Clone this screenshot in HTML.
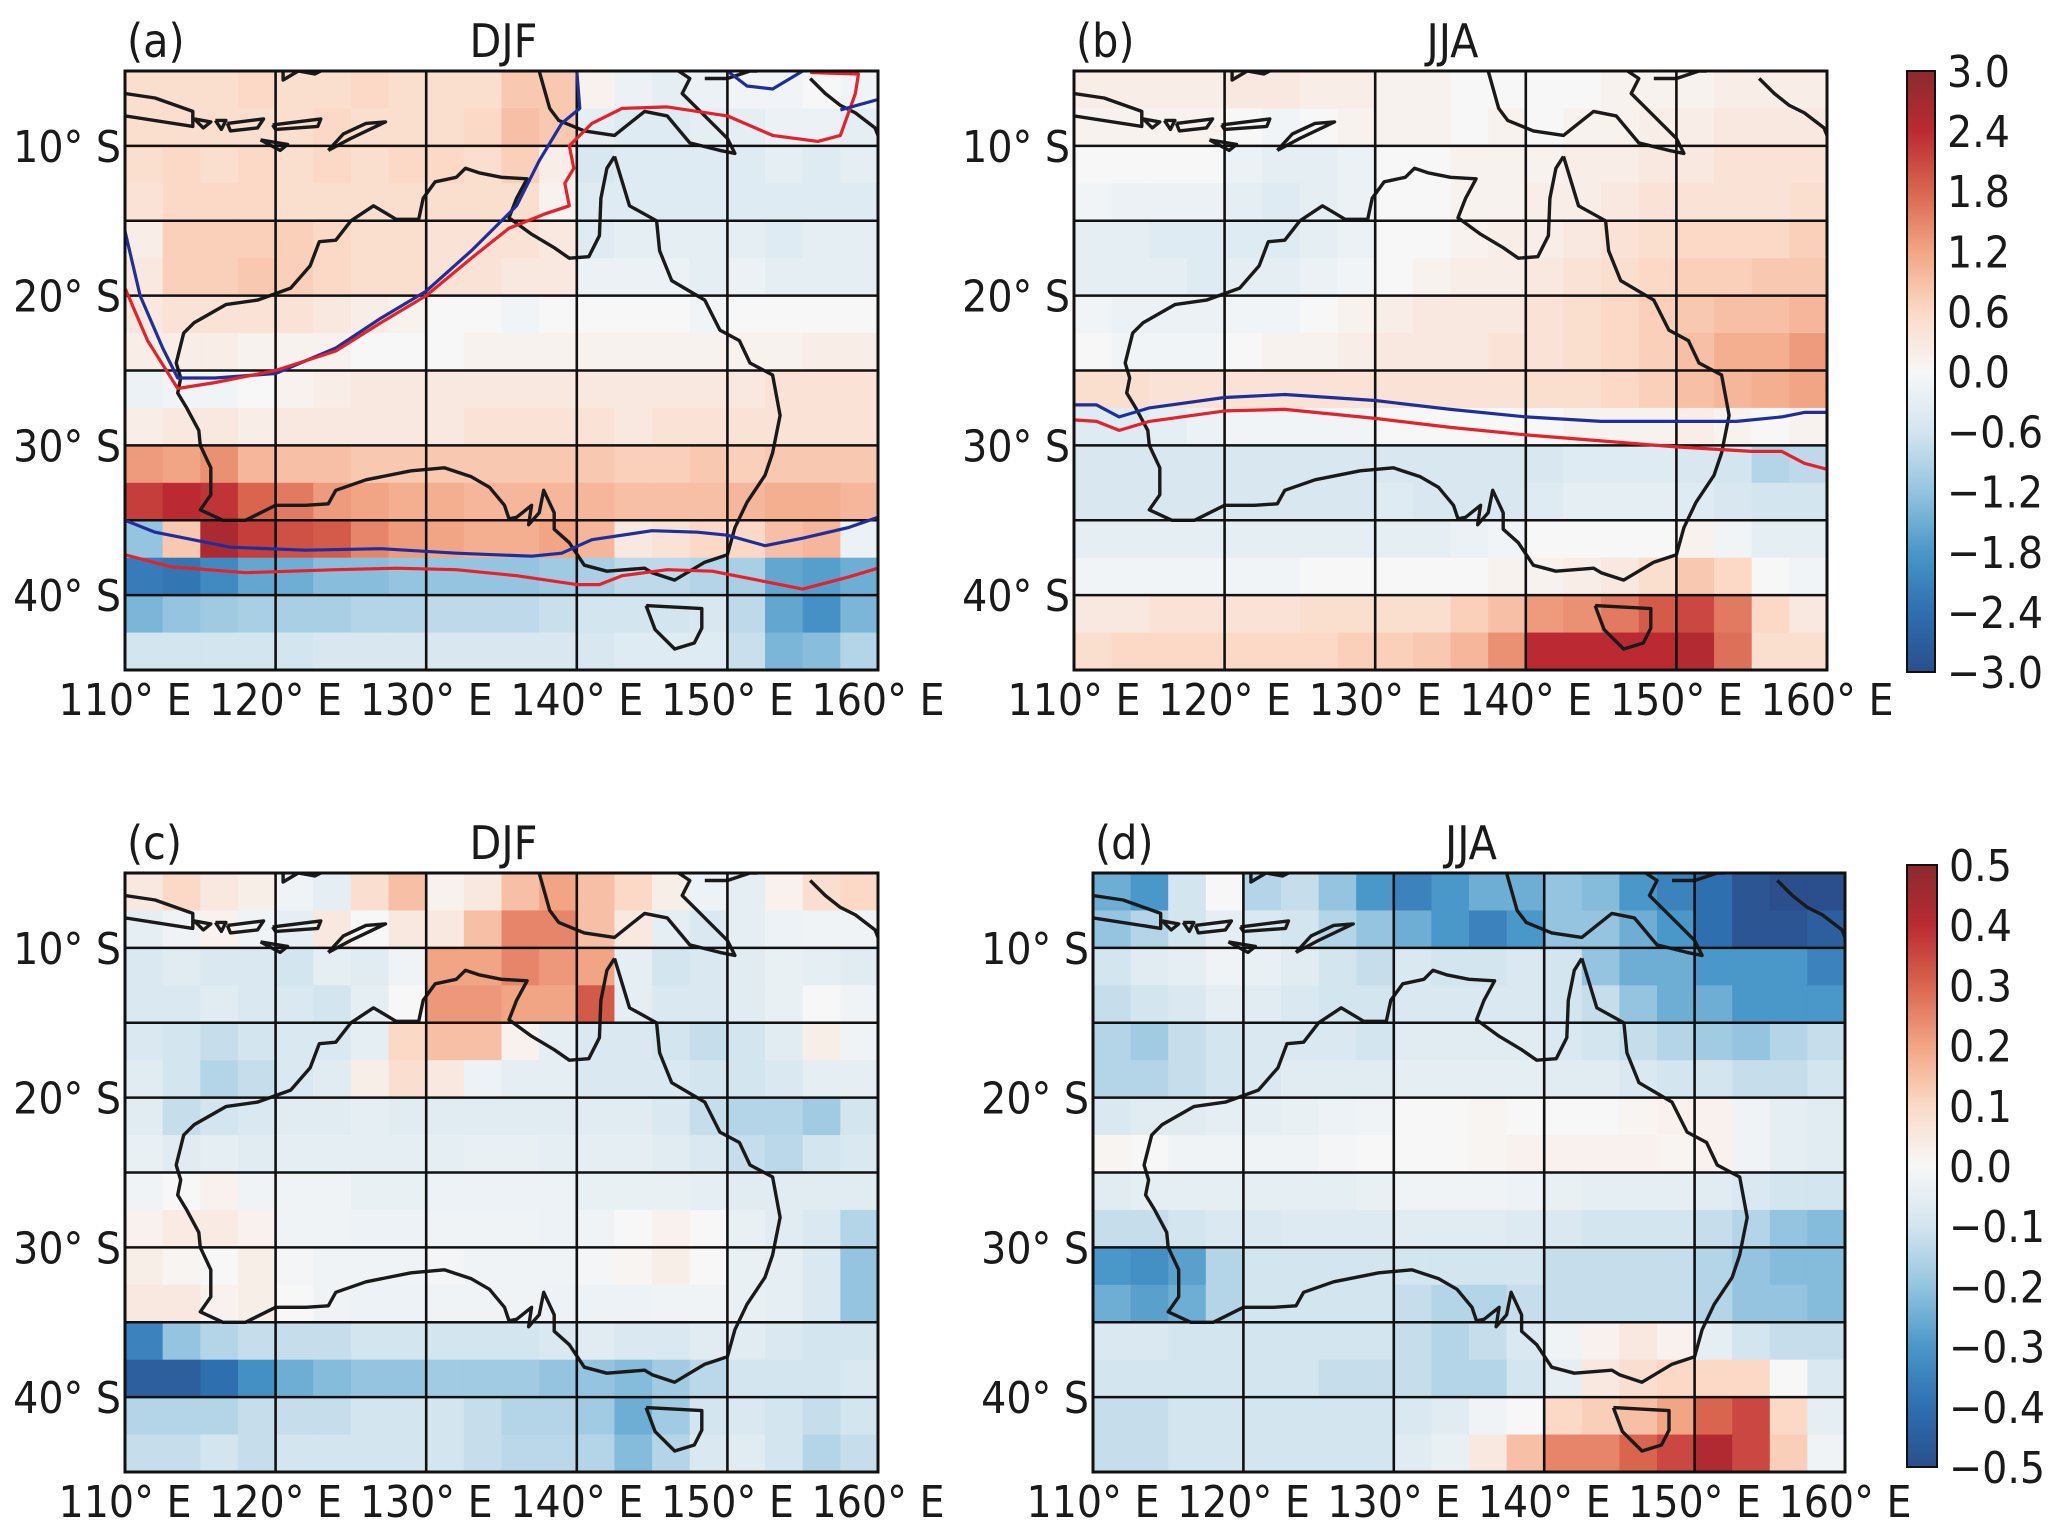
<!DOCTYPE html>
<html><head><meta charset="utf-8">
<style>
html,body{margin:0;padding:0;background:#fff;}
svg{display:block;font-family:"DejaVu Sans","Liberation Sans",sans-serif;font-stretch:condensed;}
</style></head>
<body>
<svg id="fig" width="2067" height="1534" viewBox="0 0 2067 1534" xmlns="http://www.w3.org/2000/svg"></svg>
<script>
// ---------------- data ----------------
const lonStart = 110, lonEnd = 160, latTop = -5, latBot = -45, cell = 2.5;
const lonTicks = [110,120,130,140,150,160];
const lonTickLabels = ["110° E","120° E","130° E","140° E","150° E","160° E"];
const latTicks = [-10,-20,-30,-40];
const latTickLabels = ["10° S","20° S","30° S","40° S"];
const latGrid = [-10,-15,-20,-25,-30,-35,-40];
const cbTicksA = ["3.0","2.4","1.8","1.2","0.6","0.0","−0.6","−1.2","−1.8","−2.4","−3.0"];
const cbTicksB = ["0.5","0.4","0.3","0.2","0.1","0.0","−0.1","−0.2","−0.3","−0.4","−0.5"];

const gridA = [
[.5,.5,.5,.6,.5,.5,.6,.5,.5,.5,.8,.8,.1,-.2,-.3,-.2,-.1,-.1,0,-.1],
[.5,.5,.5,.5,.5,.6,.5,.5,.5,.6,.9,.8,-.3,-.4,-.4,-.3,-.3,-.2,-.2,-.3],
[.5,.6,.5,.6,.5,.6,.5,.6,.6,.5,.7,.2,-.5,-.4,-.4,-.4,-.4,-.3,-.4,-.3],
[.4,.6,.6,.6,.5,.5,.5,.5,.5,.5,.5,.1,-.4,-.4,-.4,-.4,-.4,-.4,-.4,-.4],
[.2,.7,.7,.7,.7,.6,.5,.5,.4,.4,.4,.3,-.4,-.3,-.3,-.3,-.3,-.4,-.3,-.3],
[.3,.7,.7,.8,.7,.6,.5,.5,.4,.4,.3,.3,-.2,-.2,-.2,-.3,-.2,-.3,-.3,-.3],
[.3,.4,.4,.4,.4,.3,.2,.1,0,0,-.1,0,0,0,0,-.1,0,0,0,0],
[.2,.2,.2,.1,.1,.1,0,0,0,.1,.1,.1,.1,.1,.1,.1,.1,.1,.2,.2],
[-.2,-.1,-.1,0,.1,.2,.3,.3,.3,.3,.3,.3,.3,.3,.3,.3,.3,.4,.4,.4],
[.2,.3,.3,.2,.3,.3,.3,.3,.3,.4,.4,.4,.4,.3,.4,.4,.4,.4,.4,.4],
[1.3,1.2,1.4,1.0,.9,.9,.8,.8,.8,.8,.8,.8,.8,.7,.7,.8,.7,.8,.8,.8],
[2.2,2.4,2.3,1.8,1.6,1.3,1.2,1.1,1.1,1.0,1.0,1.0,1.0,.9,.9,.9,1.0,1.1,1.1,1.0],
[-1.2,.8,2.6,2.2,2.0,1.9,1.5,1.3,1.2,1.1,1.1,1.2,1.0,.3,.4,.6,.6,.9,1.0,-.2],
[-2.2,-2.3,-2.0,-1.6,-1.5,-1.3,-1.3,-1.2,-1.2,-1.2,-1.2,-1.1,-1.0,-.8,-.8,-.9,-1.0,-1.6,-1.7,-1.5],
[-1.4,-1.2,-1.1,-1.0,-1.0,-1.0,-.9,-.9,-.8,-.8,-.8,-.7,-.6,-.6,-.6,-.5,-.8,-1.6,-1.9,-1.4],
[-.6,-.6,-.6,-.6,-.6,-.5,-.5,-.5,-.5,-.5,-.5,-.5,-.5,-.4,-.4,-.4,-.7,-1.4,-1.3,-.9]];

const gridB = [
[.2,.2,.2,.2,.3,.3,.2,.2,.1,.1,0,0,0,0,.1,.1,.1,.2,.2,.2],
[.1,.1,.1,.1,0,-.1,0,.1,.1,.1,0,.1,0,.1,.1,.2,.2,.3,.3,.3],
[0,0,0,0,-.2,-.3,-.3,-.2,0,0,.1,.1,.1,.2,.2,.3,.3,.4,.4,.4],
[-.1,-.2,-.2,-.2,-.3,-.4,-.3,-.2,0,0,.1,.1,.2,.2,.3,.4,.4,.4,.4,.5],
[-.3,-.3,-.4,-.4,-.4,-.4,-.3,-.2,0,0,.1,.2,.2,.3,.4,.5,.6,.6,.6,.7],
[-.3,-.3,-.3,-.4,-.3,-.3,-.2,-.1,0,.1,.2,.2,.3,.4,.5,.6,.7,.7,.8,.8],
[-.1,-.2,-.2,-.2,-.1,-.1,0,.1,.2,.3,.3,.3,.4,.5,.6,.7,.8,.9,.9,1.0],
[0,-.1,-.1,-.1,0,.1,.1,.2,.3,.3,.3,.4,.4,.5,.6,.7,.9,1.1,1.1,1.3],
[.5,.5,.4,.4,.4,.4,.4,.4,.4,.4,.4,.4,.5,.5,.6,.7,.9,1.0,1.1,1.2],
[-.4,-.4,-.3,-.2,-.1,-.1,-.1,-.1,0,0,0,0,0,.1,.1,.1,.2,.1,0,.1],
[-.5,-.5,-.5,-.5,-.5,-.5,-.5,-.5,-.5,-.5,-.5,-.5,-.5,-.4,-.4,-.4,-.5,-.6,-.9,-.8],
[-.5,-.5,-.5,-.5,-.5,-.5,-.5,-.5,-.4,-.5,-.5,-.5,-.4,-.3,-.3,-.3,-.4,-.5,-.6,-.6],
[-.3,-.3,-.3,-.3,-.3,-.3,-.3,-.3,-.3,-.3,-.2,-.1,0,0,0,0,.1,-.1,-.3,-.3],
[-.1,-.1,-.1,-.1,-.1,-.1,0,0,0,0,0,.1,.1,.2,.3,.5,.8,.6,0,-.1],
[.3,.3,.4,.4,.4,.4,.5,.5,.5,.5,.7,.9,1.3,1.4,1.6,1.9,2.1,1.6,.6,.3],
[.5,.6,.6,.6,.6,.6,.6,.7,.7,.8,1.0,1.4,2.4,2.4,2.4,2.4,2.5,1.7,.5,.5]];

const gridC = [
[.05,.1,.05,.03,-.02,-.05,.08,.15,.02,.05,.15,.2,.15,.1,.03,-.03,-.05,.02,.08,.1],
[-.05,-.02,.02,-.02,-.05,.05,0,.05,.05,.15,.25,.25,.15,.05,-.05,-.08,-.05,-.03,-.02,-.02],
[-.08,-.06,-.08,-.08,-.1,-.05,-.06,-.02,.2,.2,.25,.22,.2,-.05,-.1,-.08,-.06,-.04,-.05,-.06],
[-.08,-.08,-.06,-.08,-.08,-.1,-.05,0,.22,.22,.2,.2,.32,-.05,-.08,-.08,-.06,-.04,0,-.02],
[-.08,-.1,-.12,-.1,-.08,-.08,-.05,.1,.15,.15,.02,-.05,-.08,-.08,-.1,-.12,-.1,-.06,.03,-.02],
[-.06,-.1,-.15,-.12,-.08,-.06,.03,.08,.05,-.03,-.05,-.05,-.08,-.08,-.08,-.1,-.1,-.08,-.05,-.05],
[-.06,-.12,-.1,-.08,-.06,-.06,-.05,-.06,-.06,-.06,-.06,-.06,-.06,-.06,-.08,-.12,-.15,-.15,-.18,-.1],
[-.04,-.06,-.05,-.06,-.05,-.05,-.05,-.05,-.05,-.04,-.04,-.05,-.05,-.05,-.06,-.08,-.12,-.14,-.1,-.08],
[-.02,0,.02,-.02,-.02,-.02,-.04,-.04,-.03,-.03,-.03,-.03,-.04,-.04,-.04,-.05,-.06,-.06,-.06,-.06],
[.02,.04,.04,.02,-.02,-.02,-.03,-.03,-.02,-.02,-.02,-.03,-.02,0,.02,0,-.04,-.06,-.08,-.15],
[.03,.01,0,.03,-.01,-.02,-.02,-.02,-.01,-.02,-.02,-.02,-.01,.01,.03,0,-.04,-.05,-.08,-.2],
[.05,.05,.02,.03,0,-.02,-.03,-.03,-.02,-.02,-.02,-.03,-.03,-.03,-.02,-.02,-.04,-.05,-.08,-.2],
[-.35,-.2,-.15,-.12,-.12,-.12,-.1,-.1,-.1,-.1,-.1,-.08,-.06,-.08,-.08,-.06,-.06,-.08,-.1,-.1],
[-.45,-.45,-.4,-.32,-.25,-.22,-.2,-.2,-.18,-.18,-.18,-.2,-.2,-.22,-.18,-.14,-.1,-.1,-.1,-.08],
[-.15,-.15,-.15,-.12,-.12,-.12,-.1,-.1,-.1,-.12,-.15,-.15,-.18,-.25,-.18,-.1,-.08,-.1,-.12,-.1],
[-.12,-.12,-.1,-.12,-.1,-.1,-.1,-.1,-.1,-.12,-.14,-.14,-.15,-.22,-.15,-.08,-.06,-.1,-.15,-.12]];

const gridD = [
[-.25,-.3,-.1,0,-.15,-.12,-.2,-.3,-.35,-.3,-.25,-.25,-.2,-.22,-.3,-.35,-.4,-.48,-.5,-.5],
[-.2,-.15,-.1,-.05,-.08,-.1,-.15,-.2,-.25,-.3,-.35,-.3,-.2,-.2,-.25,-.3,-.4,-.48,-.48,-.45],
[-.1,-.06,-.05,-.02,-.04,-.06,-.1,-.12,-.08,-.1,-.1,-.08,-.1,-.2,-.25,-.25,-.3,-.3,-.3,-.35],
[-.12,-.1,-.08,-.05,-.06,-.08,-.1,-.1,-.08,-.08,-.08,-.08,-.1,-.12,-.2,-.25,-.25,-.3,-.3,-.3],
[-.15,-.18,-.12,-.1,-.08,-.08,-.08,-.1,-.06,-.06,-.06,-.06,-.08,-.1,-.12,-.15,-.18,-.2,-.15,-.12],
[-.15,-.15,-.12,-.1,-.08,-.06,-.06,-.06,-.05,-.05,-.05,-.05,-.06,-.06,-.08,-.1,-.1,-.12,-.12,-.1],
[-.08,-.06,-.06,-.05,-.05,-.04,-.03,-.02,0,0,.01,0,0,0,.01,.02,.02,-.02,-.05,-.06],
[.01,0,-.02,-.02,-.02,-.02,-.01,0,0,0,.01,.02,.02,.02,.02,.01,.02,-.02,-.05,-.06],
[-.06,-.05,-.05,-.05,-.05,-.05,-.05,-.04,-.02,-.02,-.02,-.03,-.04,-.05,-.05,-.05,-.06,-.08,-.1,-.1],
[-.12,-.12,-.1,-.08,-.08,-.07,-.07,-.07,-.06,-.06,-.06,-.07,-.08,-.1,-.1,-.1,-.12,-.15,-.2,-.22],
[-.3,-.32,-.28,-.15,-.1,-.1,-.1,-.1,-.1,-.1,-.1,-.1,-.12,-.12,-.12,-.12,-.15,-.2,-.22,-.22],
[-.25,-.28,-.25,-.15,-.1,-.1,-.1,-.1,-.12,-.15,-.15,-.12,-.12,-.12,-.12,-.12,-.15,-.2,-.2,-.22],
[-.08,-.08,-.1,-.1,-.1,-.1,-.1,-.1,-.12,-.15,-.12,-.08,-.02,.02,.05,.02,-.05,-.1,-.12,-.12],
[-.1,-.1,-.1,-.1,-.1,-.1,-.12,-.12,-.12,-.15,-.15,-.1,-.05,.05,.08,.1,.1,.1,0,-.08],
[-.12,-.12,-.1,-.1,-.1,-.1,-.1,-.1,-.08,-.06,-.02,0,.1,.12,.15,.2,.3,.35,.1,-.05],
[-.12,-.12,-.1,-.1,-.1,-.1,-.1,-.1,-.06,-.04,.05,.15,.25,.25,.3,.35,.42,.35,.12,-.02]];

// contour lines [lon, lat]
const blueA1 = [[110,-15.7],[111,-20],[112.5,-23.5],[113.5,-25.5],[116,-25.5],[120,-25.2],[124,-23.5],[127,-21.5],[130,-19.7],[133,-17],[136,-14],[137.5,-11],[139,-8.5],[140.2,-7.5],[140,-5]];
const redA1 = [[110,-19.5],[111.5,-23],[113.5,-26.2],[116,-25.8],[120,-25],[124,-23.7],[127,-21.8],[130,-20],[133,-17.5],[135.5,-15.5],[138,-14.5],[139.5,-14],[139.2,-12.5],[139.8,-11.5],[139.5,-10],[141,-8.5],[143,-7.5],[146,-7.4],[150,-8],[153,-9.3],[156,-9.7],[157.5,-9.3],[158.5,-6.5],[158.7,-5.2],[155.5,-5.1]];
const blueA2 = [[150,-5],[151.3,-6],[153,-6.2],[155,-5]];
const blueA3 = [[157.5,-7.6],[160,-6.9]];
const blueA4 = [[110,-35],[112,-35.8],[117,-36.8],[122,-37],[127,-36.9],[132,-37.2],[137,-37.4],[139,-37.2],[141,-36.3],[145,-35.7],[148,-35.8],[150,-36],[152.5,-36.7],[155,-36.2],[158,-35.5],[160,-34.8]];
const redA2 = [[110,-37.3],[113,-38.1],[118,-38.5],[124,-38.3],[128,-38.2],[132,-38.3],[136,-38.7],[140,-39.3],[141.5,-39.3],[143,-38.7],[146,-38.3],[149,-38.4],[152,-39],[155,-39.6],[158,-38.8],[160,-38.2]];
const blueB = [[110,-27.3],[111.5,-27.3],[113,-28.1],[115,-27.5],[120,-26.8],[124,-26.6],[130,-27],[135,-27.6],[140,-28.1],[145,-28.4],[150,-28.4],[154,-28.4],[157,-28.1],[158.5,-27.8],[160,-27.8]];
const redB = [[110,-28.3],[111.5,-28.4],[113,-29],[115,-28.4],[120,-27.7],[124,-27.6],[130,-28.2],[135,-28.8],[140,-29.3],[145,-29.7],[150,-30.1],[155,-30.4],[157,-30.4],[158.5,-31.2],[160,-31.6]];

// coastlines
const australia = [[142.5,-10.7],[143.5,-14],[145.3,-15],[145.5,-17],[146.3,-19],[148.5,-20.3],[149.5,-22.3],[150.8,-23],[151.5,-24.5],[153,-25.3],[153.5,-28],[153,-30.5],[152.5,-32],[151.3,-33.8],[150.5,-35.5],[150,-37.3],[148.5,-37.8],[146.5,-39],[145,-38.5],[144.5,-38.2],[142,-38.4],[140.5,-38],[139.5,-36.5],[138.5,-35.6],[138.5,-34.5],[137.8,-33],[137.5,-34.5],[136.8,-35.3],[137,-34],[136,-34.8],[135.5,-34.9],[135.2,-34],[134.2,-32.8],[133,-32.1],[131.2,-31.5],[129,-31.7],[126,-32.3],[124,-33],[123.5,-33.9],[122,-34],[120,-34],[118,-35],[116.5,-35],[115,-34.3],[115.7,-33.3],[115.7,-31.5],[115,-30],[114.9,-29],[114.1,-27.5],[113.5,-26.5],[113.7,-25.5],[113.4,-24.5],[113.9,-22.5],[114.6,-21.8],[116.7,-20.6],[118.8,-20.3],[121,-19.5],[122.3,-18],[122.9,-16.4],[124,-16.3],[125,-15],[126.5,-14],[128,-14.9],[129.5,-14.9],[129.8,-13.5],[130.6,-12.4],[132,-12.1],[132.6,-11.5],[133.5,-11.8],[135,-12.1],[136.7,-12.2],[136,-13.5],[135.5,-14.8],[137,-15.9],[138.5,-16.8],[139.5,-17.5],[140.8,-17.4],[141.5,-16],[141.6,-13.5],[142,-11.5],[142.5,-10.7]];
const tasmania = [[144.6,-40.7],[148.3,-40.9],[148.3,-42.2],[147.8,-43.2],[146.5,-43.6],[145.2,-42.3],[144.6,-40.7]];
const newGuinea = [[131,-1],[134,-3],[135,-4.3],[137.5,-5],[138.2,-7.5],[138.8,-8.3],[140.5,-9],[142.5,-9.3],[143.5,-8.5],[144.5,-7.7],[146,-8],[147.5,-9.8],[149.5,-10.3],[150.5,-10.5],[150,-9.5],[149,-8.5],[148,-7.5],[147,-6.5],[147.5,-5.5],[146,-4.5],[143,-3],[131,-1]];
const java = [[105,-6.8],[110,-8],[114.5,-8.7],[114.5,-7.7],[112,-6.8],[110,-6.5],[106,-5.9]];
const bali = [[114.6,-8.2],[115.7,-8.4],[115.2,-8.8],[114.6,-8.2]];
const lombok = [[116,-8.3],[116.7,-8.3],[116.4,-8.9],[116,-8.3]];
const sumbawa = [[116.8,-8.5],[119.2,-8.2],[118.8,-8.8],[117,-9],[116.8,-8.5]];
const flores = [[119.8,-8.6],[123,-8.2],[122.8,-8.7],[120,-8.9],[119.8,-8.6]];
const sumba = [[119,-9.6],[120.8,-9.9],[120.3,-10.3],[119,-9.6]];
const timor = [[123.5,-10.3],[125,-9.5],[127.3,-8.4],[126,-8.5],[124.5,-9.2],[123.5,-10.3]];
const sulawesi = [[120.5,-5],[120.5,-5.6],[121.5,-5],[122.6,-5.2],[123,-5]];
const solomon = [[155.5,-5.5],[156.5,-6.5],[157.5,-7.3],[158.5,-7.8],[159.8,-8.8],[160,-9.3]];
const newBritain = [[148.5,-5.5],[150,-5.5],[151.5,-5],[152,-5]];
</script>
<script>
// ---------------- rendering ----------------
const NS = "http://www.w3.org/2000/svg";
const svg = document.getElementById('fig');
function mk(tag, attrs, parent){
  const e = document.createElementNS(NS, tag);
  for (const k in attrs) e.setAttribute(k, attrs[k]);
  (parent||svg).appendChild(e);
  return e;
}
const cmapStops = ["#2b4e8c","#2e6fb0","#4a97c9","#94c4df","#d3e5ef","#f7f7f7","#fbd9c6","#f2a585","#d9654f","#bb2a33","#8a2a2d"];
function hex2rgb(h){return [parseInt(h.slice(1,3),16),parseInt(h.slice(3,5),16),parseInt(h.slice(5,7),16)];}
const cmapRGB = cmapStops.map(hex2rgb);
function cmap(t){
  t = Math.max(-1, Math.min(1, t));
  const p = (t+1)/2*(cmapRGB.length-1);
  const i = Math.min(cmapRGB.length-2, Math.floor(p)); const f = p-i;
  const a = cmapRGB[i], b = cmapRGB[i+1];
  return `rgb(${Math.round(a[0]+(b[0]-a[0])*f)},${Math.round(a[1]+(b[1]-a[1])*f)},${Math.round(a[2]+(b[2]-a[2])*f)})`;
}

const panels = [
  {id:'a', x0:125, x1:878, y0:71, y1:670, grid:gridA, vmax:3, label:'(a)', title:'DJF', contours:[[blueA1,'#1f2f9a'],[redA1,'#e3222b'],[blueA2,'#1f2f9a'],[blueA3,'#1f2f9a'],[blueA4,'#1f2f9a'],[redA2,'#e3222b']]},
  {id:'b', x0:1074, x1:1827, y0:71, y1:670, grid:gridB, vmax:3, label:'(b)', title:'JJA', contours:[[blueB,'#1f2f9a'],[redB,'#e3222b']]},
  {id:'c', x0:125, x1:878, y0:873, y1:1472, grid:gridC, vmax:0.5, label:'(c)', title:'DJF', contours:[]},
  {id:'d', x0:1093, x1:1845, y0:873, y1:1472, grid:gridD, vmax:0.5, label:'(d)', title:'JJA', contours:[]}
];
const coasts = [australia, tasmania, newGuinea, java, bali, lombok, sumbawa, flores, sumba, timor, sulawesi, solomon, newBritain];

panels.forEach((P) => {
  const g = mk('g', {});
  
  
  const xs = lon => P.x0 + (lon - lonStart) / (lonEnd - lonStart) * (P.x1 - P.x0);
  const ys = lat => P.y0 + (latTop - lat) / (latTop - latBot) * (P.y1 - P.y0);
  const clipId = 'clip' + P.id;
  const defs = mk('defs', {}, g);
  const cp = mk('clipPath', {id: clipId}, defs);
  mk('rect', {x:P.x0, y:P.y0, width:P.x1-P.x0, height:P.y1-P.y0}, cp);
  const inner = mk('g', {'clip-path': `url(#${clipId})`}, g);
  P.grid.forEach((row, r) => {
    row.forEach((v, c) => {
      const lon = lonStart + c*cell, lat = latTop - r*cell;
      const x = xs(lon), y = ys(lat);
      const rc = mk('rect', {x:x.toFixed(2), y:y.toFixed(2), width:(xs(lon+cell)-x+0.6).toFixed(2), height:(ys(lat-cell)-y+0.6).toFixed(2), fill:cmap(v/P.vmax)}, inner);
      
      
    });
  });
  coasts.forEach(poly => {
    const d = poly.map((p,i) => (i?'L':'M') + xs(p[0]).toFixed(1) + ',' + ys(p[1]).toFixed(1)).join('');
    const cl = mk('path', {d:d, fill:'none', stroke:'#1a1a1a', 'stroke-width':3.4, 'stroke-linejoin':'round'}, inner);
    
    
  });
  lonTicks.forEach(lon => {
    const gl = mk('line', {x1:xs(lon), x2:xs(lon), y1:P.y0, y2:P.y1, stroke:'#111', 'stroke-width':2.6}, inner);
    
    
  });
  latGrid.forEach(lat => {
    const gl = mk('line', {x1:P.x0, x2:P.x1, y1:ys(lat), y2:ys(lat), stroke:'#111', 'stroke-width':2.6}, inner);
    
    
  });
  P.contours.forEach(([pts, col]) => {
    const d = pts.map((p,i) => (i?'L':'M') + xs(p[0]).toFixed(1) + ',' + ys(p[1]).toFixed(1)).join('');
    const cl = mk('path', {d:d, fill:'none', stroke:col, 'stroke-width':3.2, 'stroke-linejoin':'round'}, inner);
    
    
  });
  const fr = mk('rect', {x:P.x0, y:P.y0, width:P.x1-P.x0, height:P.y1-P.y0, fill:'none', stroke:'#111', 'stroke-width':3}, g);
  
  
  lonTicks.forEach((lon, i) => {
    const t = mk('text', {x:xs(lon), y:P.y1 + 45, 'font-size':44, 'text-anchor':'middle', fill:'#1a1a1a'}, g);
    t.textContent = lonTickLabels[i];
    
    
  });
  latTicks.forEach((lat, i) => {
    const t = mk('text', {x:P.x0 - 4, y:ys(lat) + 16, 'font-size':44, 'text-anchor':'end', fill:'#1a1a1a'}, g);
    t.textContent = latTickLabels[i];
    
    
  });
  const lb = mk('text', {x:P.x0 + 2, y:P.y0 - 14, 'font-size':46, fill:'#1a1a1a'}, g);
  lb.textContent = P.label;
  
  
  const tt = mk('text', {x:(P.x0+P.x1)/2 + 2, y:P.y0 - 14, 'font-size':46, 'text-anchor':'middle', fill:'#1a1a1a'}, g);
  tt.textContent = P.title;
  
  
});

const cbs = [{x:1907, y0:71, y1:672, w:28, labels:cbTicksA, name:'colorbar-top'}, {x:1907, y0:865, y1:1467, w:30, labels:cbTicksB, name:'colorbar-bottom'}];
const defs2 = mk('defs', {});
const grad = mk('linearGradient', {id:'cbgrad', x1:0, y1:1, x2:0, y2:0}, defs2);
cmapStops.forEach((c,i) => mk('stop', {offset:(i/(cmapStops.length-1)), 'stop-color':c}, grad));
cbs.forEach(C => {
  const g = mk('g', {});
  
  
  mk('rect', {x:C.x, y:C.y0, width:C.w, height:C.y1-C.y0, fill:'url(#cbgrad)', stroke:'#111', 'stroke-width':2}, g);
  C.labels.forEach((s, i) => {
    const y = C.y0 + i/(C.labels.length-1)*(C.y1-C.y0);
    const t = mk('text', {x:C.x + C.w + 12, y:y + 16, 'font-size':44, fill:'#1a1a1a'}, g);
    t.textContent = s;
    
    
  });
});
</script>
</body></html>
